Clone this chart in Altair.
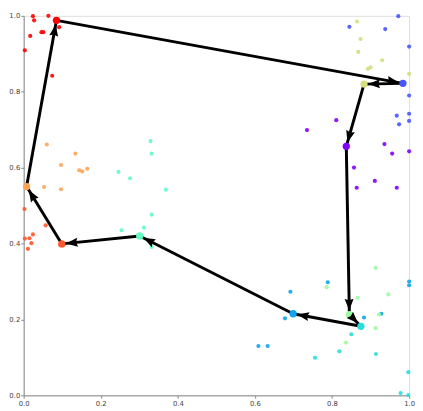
import math
import altair as alt
import pandas as pd

# cluster ids (0..9), colours follow matplotlib "rainbow"
clusters = ["0", "1", "2", "3", "4", "5", "6", "7", "8", "9"]
colors = ["#8000ff", "#4757fb", "#0ea4f0", "#2adddd", "#63fbc3",
          "#9cfba4", "#d4dd80", "#ffa457", "#ff572c", "#ff0000"]

# centroids
centroid_x = [0.837, 0.984, 0.699, 0.875, 0.301, 0.845, 0.883, 0.0075, 0.099, 0.085]
centroid_y = [0.656, 0.822, 0.215, 0.182, 0.420, 0.2125, 0.820, 0.550, 0.399, 0.988]

# visiting order of the centroids
route = [0, 5, 3, 2, 4, 8, 7, 9, 1, 6, 0]

# scatter points per cluster
c0_x = [0.735, 0.811, 0.936, 0.956, 0.857, 0.911, 0.864, 0.968, 1.0]
c0_y = [0.699, 0.725, 0.662, 0.637, 0.600, 0.565, 0.547, 0.547, 0.643]
c1_x = [0.972, 0.845, 0.938, 1.0, 0.968, 0.974, 1.0, 1.0, 1.0]
c1_y = [0.999, 0.971, 0.965, 0.919, 0.737, 0.714, 0.742, 0.723, 0.790]
c2_x = [0.789, 0.692, 0.678, 0.609, 0.633, 0.883, 0.928, 1.0, 1.0]
c2_y = [0.298, 0.273, 0.203, 0.130, 0.130, 0.205, 0.215, 0.300, 0.290]
c3_x = [0.850, 0.819, 0.756, 0.914, 0.998, 0.978, 0.998]
c3_y = [0.161, 0.116, 0.099, 0.109, 0.061, 0.006, 0.001]
c4_x = [0.329, 0.332, 0.246, 0.276, 0.369, 0.332, 0.312, 0.254, 0.332]
c4_y = [0.670, 0.637, 0.589, 0.572, 0.542, 0.476, 0.442, 0.435, 0.391]
c5_x = [0.913, 0.786, 0.866, 0.946, 0.922, 0.913, 0.836]
c5_y = [0.336, 0.285, 0.257, 0.266, 0.213, 0.177, 0.139]
c6_x = [0.865, 0.874, 0.868, 0.930, 0.900, 0.893, 1.0]
c6_y = [0.985, 0.939, 0.905, 0.883, 0.864, 0.860, 0.847]
c7_x = [0.060, 0.134, 0.097, 0.144, 0.152, 0.165, 0.053, 0.097]
c7_y = [0.661, 0.637, 0.607, 0.593, 0.590, 0.597, 0.549, 0.543]
c8_x = [0.002, 0.057, 0.024, 0.003, 0.015, 0.020, 0.011, 0.095, 0.103]
c8_y = [0.491, 0.448, 0.424, 0.413, 0.414, 0.401, 0.386, 0.397, 0.397]
c9_x = [0.024, 0.064, 0.027, 0.092, 0.046, 0.051, 0.017, 0.003, 0.074]
c9_y = [0.999, 1.000, 0.988, 0.970, 0.957, 0.957, 0.947, 0.909, 0.842]

tick_values = [0.0, 0.2, 0.4, 0.6, 0.8, 1.0]

all_x = [c0_x, c1_x, c2_x, c3_x, c4_x, c5_x, c6_x, c7_x, c8_x, c9_x]
all_y = [c0_y, c1_y, c2_y, c3_y, c4_y, c5_y, c6_y, c7_y, c8_y, c9_y]

rows = []
for cid, xs_, ys_ in zip(clusters, all_x, all_y):
    for a, b in zip(xs_, ys_):
        rows.append({"x": a, "y": b, "cluster": cid})
points = pd.DataFrame(rows)

cent = pd.DataFrame({"x": centroid_x, "y": centroid_y, "cluster": clusters})

edges = []
for i in range(len(route) - 1):
    a, b = route[i], route[i + 1]
    dx = centroid_x[b] - centroid_x[a]
    dy = centroid_y[b] - centroid_y[a]
    ang = math.degrees(math.atan2(dx, dy)) % 360
    edges.append({"x": centroid_x[a], "y": centroid_y[a],
                  "x2": centroid_x[b], "y2": centroid_y[b], "angle": ang})
edges = pd.DataFrame(edges)

axis_common = dict(values=tick_values, format=".1f", title=None, grid=False,
                   domainColor="#8a8a8a", tickColor="#8a8a8a", tickSize=3,
                   labelFont="DejaVu Sans", labelFontSize=7, labelColor="#444444",
                   labelPadding=1, labelFlush=False, labelOverlap=False)

xs = alt.Scale(domain=[0, 1], nice=False, zero=False)
ys = alt.Scale(domain=[0, 1], nice=False, zero=False)
X = alt.X("x:Q", scale=xs, axis=alt.Axis(**axis_common))
Y = alt.Y("y:Q", scale=ys, axis=alt.Axis(**axis_common))
color = alt.Color("cluster:N", scale=alt.Scale(domain=clusters, range=colors), legend=None)

scatter = alt.Chart(points).mark_circle(size=18, opacity=0.9).encode(x=X, y=Y, color=color)

lines = alt.Chart(edges).mark_rule(color="black", strokeWidth=3).encode(
    x=X, y=Y, x2="x2:Q", y2="y2:Q")

heads = alt.Chart(edges).mark_point(
    shape="M0,0.35 L-0.38,1.35 L0,1.22 L0.38,1.35 Z",
    filled=True, size=576, color="black", opacity=1, strokeWidth=0
).encode(x=alt.X("x2:Q", scale=xs, axis=alt.Axis(**axis_common)),
         y=alt.Y("y2:Q", scale=ys, axis=alt.Axis(**axis_common)),
         angle=alt.Angle("angle:Q", scale=None))

centroids = alt.Chart(cent).mark_circle(size=55, opacity=1).encode(x=X, y=Y, color=color)

chart = alt.layer(scatter, lines, centroids, heads).properties(
    width=393, height=387,
    autosize=alt.AutoSizeParams(type="none"),
    padding={"left": 16, "top": 4, "right": 6, "bottom": 12},
).configure_view(stroke="#8a8a8a", strokeWidth=1).configure(background="white")

chart.save("out.html", embed_options={"renderer": "svg", "actions": False})
